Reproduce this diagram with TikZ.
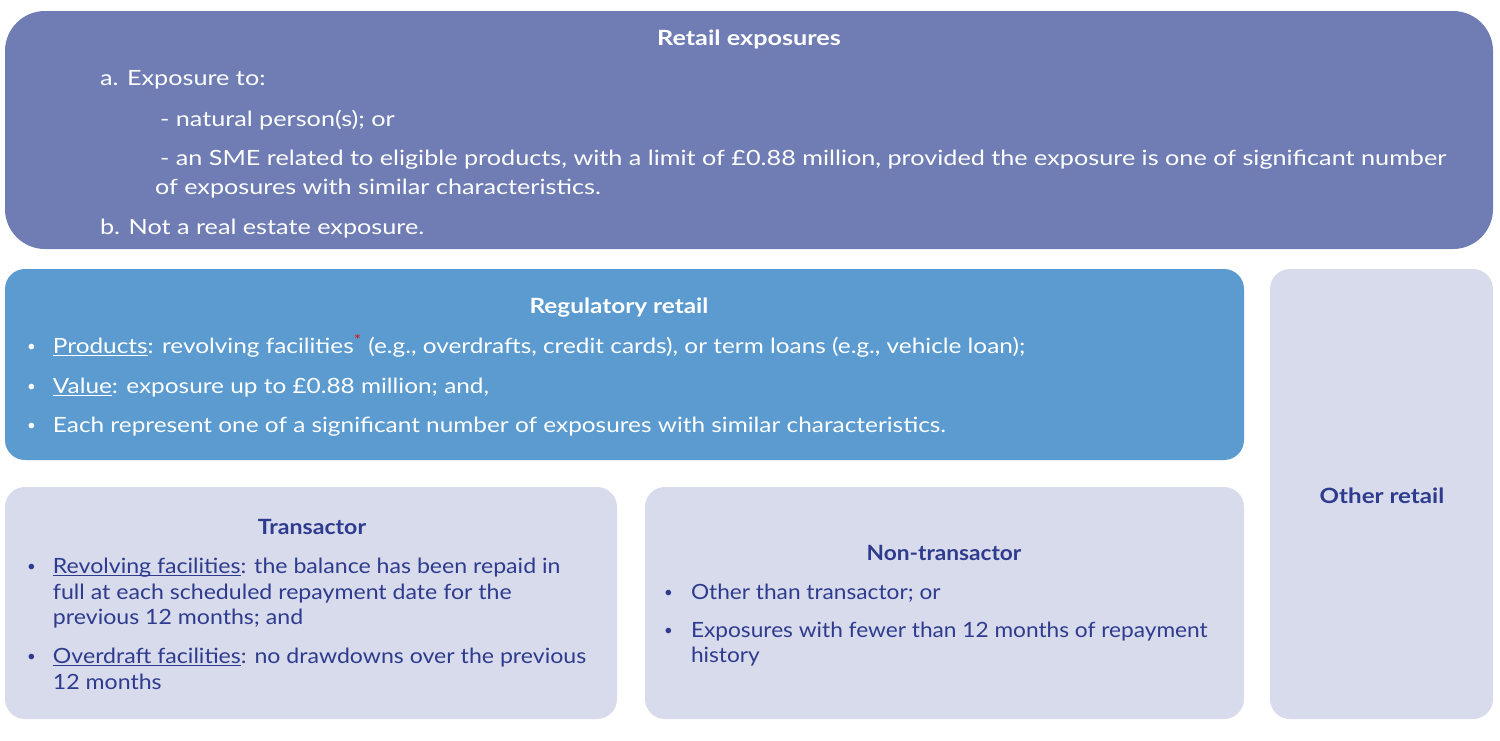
\documentclass[tikz,border=0pt]{standalone}
\usepackage{fontspec}
\setmainfont{Lato}
\newfontfamily\fretail[FakeStretch=1.20]{Lato}
\newfontfamily\freg[FakeStretch=1.16]{Lato}
\newfontfamily\ftrans[FakeStretch=1.10]{Lato}
\newfontfamily\fnon[FakeStretch=1.08]{Lato}
\newfontfamily\fother[FakeStretch=1.15]{Lato}
\newcommand\myul[1]{\underline{\smash{#1}}}
\newcommand\mybul{\raisebox{0.6pt}{\fontsize{7.5}{7.5}\selectfont •}}
\definecolor{retailc}{HTML}{6F7DB4}
\definecolor{regc}{HTML}{5B9BD0}
\definecolor{lightc}{HTML}{D7DBEB}
\definecolor{navy}{HTML}{2E3B8E}
\definecolor{starred}{HTML}{E0101A}
\tikzset{
  panel/.style={rounded corners=10pt, anchor=north west, inner sep=0pt, outer sep=0pt, draw=none},
  txt/.style={inner sep=0pt, outer sep=0pt, anchor=base west, font=\fontsize{10.5}{13}\selectfont},
  ttl/.style={inner sep=0pt, outer sep=0pt, anchor=base, font=\fontsize{10.5}{13}\selectfont\bfseries},
  wtxt/.style={txt, text=white},
  ntxt/.style={txt, text=navy},
}
\begin{document}
\begin{tikzpicture}[x=0.5pt,y=-0.5pt]
\useasboundingbox (0,0) rectangle (1500,740);
% panels
\node[panel, fill=retailc, rounded corners=20pt, minimum width=744pt, minimum height=119pt] (retail) at (5,11) {};
\node[panel, fill=regc, minimum width=619.5pt, minimum height=95.5pt] (reg) at (5,269) {};
\node[panel, fill=lightc, minimum width=111.5pt, minimum height=225pt] (other) at (1270,269) {};
\node[panel, fill=lightc, minimum width=306pt, minimum height=116pt] (trans) at (5,487) {};
\node[panel, fill=lightc, minimum width=299.5pt, minimum height=116pt] (nontrans) at (645,487) {};
% retail exposures
\node[ttl, text=white] (rt) at (749,45) {\fretail Retail exposures};
\node[wtxt] (ra) at (100,85) {\fretail a. Exposure to:};
\node[wtxt] (ra1) at (160,126) {\fretail - natural person(s); or};
\node[wtxt] (ra2) at (160,165) {\fretail - an SME related to eligible products, with a limit of £0.88 million, provided the exposure is one of significant number};
\node[wtxt] (ra3) at (155,194) {\fretail of exposures with similar characteristics.};
\node[wtxt] (rb) at (100,234) {\fretail b. Not a real estate exposure.};
% regulatory retail
\node[ttl, text=white] (gt) at (619,313) {\freg Regulatory retail};
\node[wtxt] (gb1) at (27,353) {\mybul};
\node[wtxt] (g1) at (53,353) {\freg\myul{Products}: revolving facilities\textsuperscript{\textcolor{starred}{*}} (e.g., overdrafts, credit cards), or term loans (e.g., vehicle loan);};
\node[wtxt] (gb2) at (27,393) {\mybul};
\node[wtxt] (g2) at (53,393) {\freg\myul{Value}: exposure up to £0.88 million; and,};
\node[wtxt] (gb3) at (27,432) {\mybul};
\node[wtxt] (g3) at (53,432) {\freg Each represent one of a significant number of exposures with similar characteristics.};
% transactor
\node[ttl, text=navy] (tt) at (312,534) {\ftrans Transactor};
\node[ntxt] (tb1) at (27,573) {\mybul};
\node[ntxt] (t1) at (53,573) {\ftrans\myul{Revolving facilities}: the balance has been repaid in};
\node[ntxt] (t2) at (53,599) {\ftrans full at each scheduled repayment date for the};
\node[ntxt] (t3) at (53,624) {\ftrans previous 12 months; and};
\node[ntxt] (tb2) at (27,663) {\mybul};
\node[ntxt] (t4) at (53,663) {\ftrans\myul{Overdraft facilities}: no drawdowns over the previous};
\node[ntxt] (t5) at (53,689) {\ftrans 12 months};
% non-transactor
\node[ttl, text=navy] (nt) at (944,560) {\fnon Non-transactor};
\node[ntxt] (nb1) at (664,599) {\mybul};
\node[ntxt] (n1) at (691,599) {\fnon Other than transactor; or};
\node[ntxt] (nb2) at (664,637) {\mybul};
\node[ntxt] (n2) at (691,637) {\fnon Exposures with fewer than 12 months of repayment};
\node[ntxt] (n3) at (691,662) {\fnon history};
% other retail
\node[ttl, text=navy] (ot) at (1382,503) {\fother Other retail};
\end{tikzpicture}
\end{document}
